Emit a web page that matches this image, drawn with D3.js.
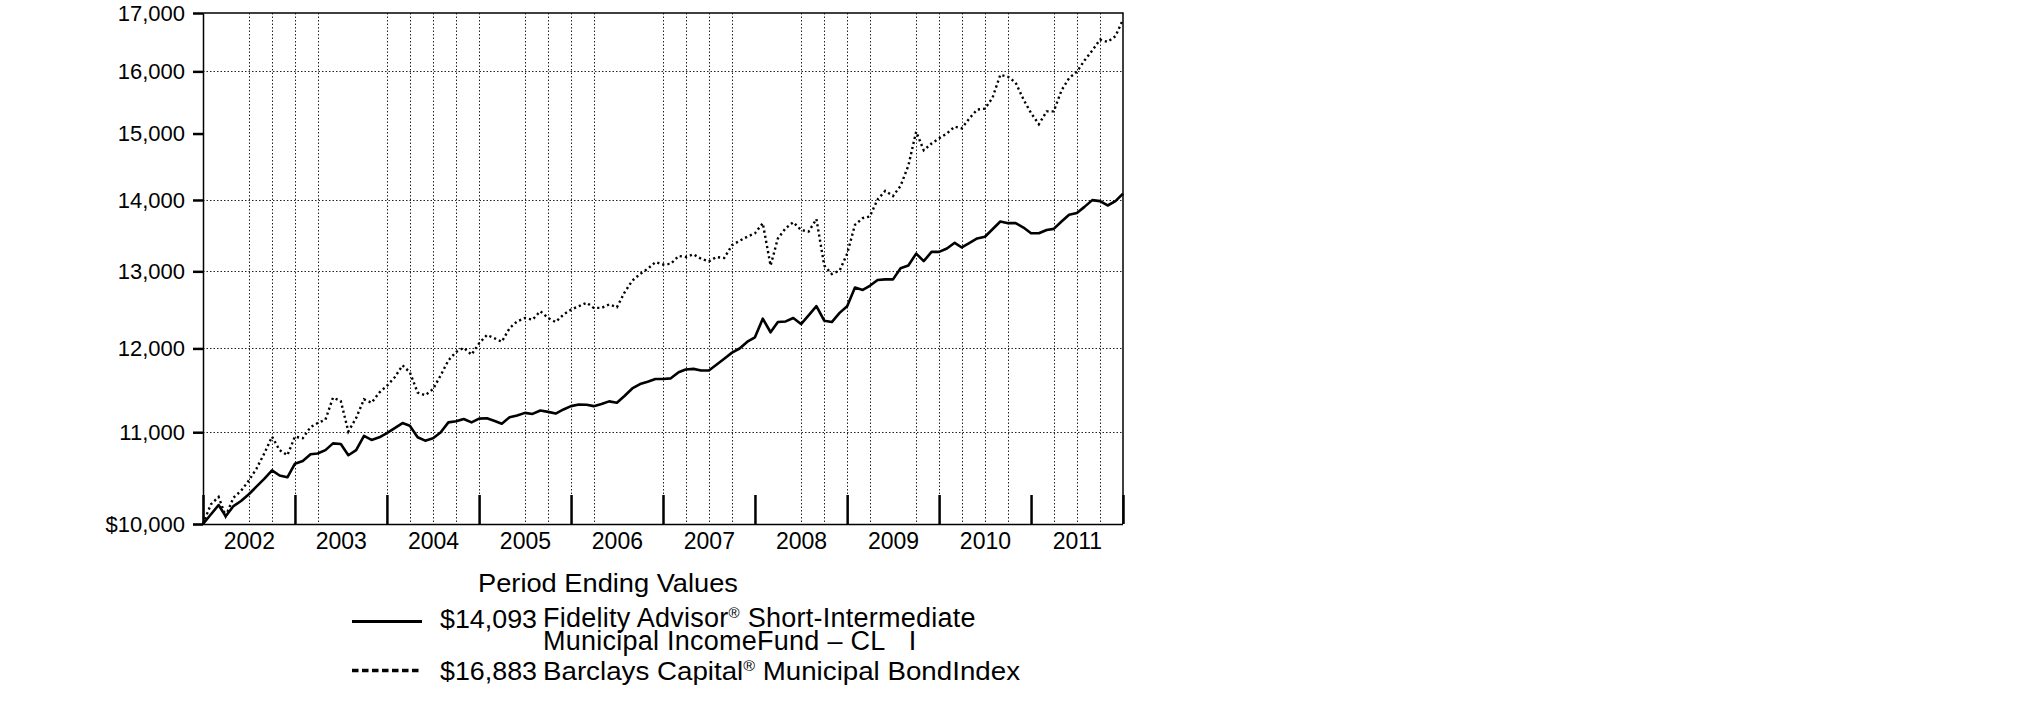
<!DOCTYPE html>
<html>
<head>
<meta charset="utf-8">
<script src="https://cdn.jsdelivr.net/npm/d3@7"></script>
<style>
  html, body { margin: 0; padding: 0; background: #fff; }
  svg { display: block; }
  text { font-family: "Liberation Sans", Arial, Helvetica, sans-serif; fill: #000; }
</style>
</head>
<body>
<script>
// ---------------- DATA ----------------
const startMonth = "2001-12";   // first month-end point (initial $10,000)
const endMonth = "2011-12";     // last month-end point

// Fidelity Advisor Short-Intermediate Municipal Income Fund - CL I (monthly, Dec 2001 .. Dec 2011)
const fundValues = [
  10000, 10099, 10199, 10081, 10188, 10242, 10314, 10395, 10479, 10572, 10516, 10497,
  10646, 10676, 10752, 10759, 10797, 10873, 10866, 10740, 10797, 10958, 10912, 10942,
  10989, 11047, 11105, 11074, 10942, 10904, 10931, 10996, 11113, 11125, 11152, 11113,
  11156, 11160, 11129, 11098, 11172, 11192, 11223, 11211, 11251, 11235, 11215, 11263,
  11302, 11322, 11318, 11302, 11326, 11358, 11342, 11422, 11511, 11564, 11592, 11625,
  11625, 11633, 11707, 11740, 11748, 11728, 11728, 11798, 11873, 11948, 11999, 12084,
  12139, 12376, 12203, 12333, 12341, 12385, 12307, 12420, 12538, 12350, 12333, 12451,
  12538, 12783, 12752, 12806, 12883, 12892, 12892, 13042, 13079, 13241, 13139, 13265,
  13265, 13312, 13391, 13326, 13391, 13452, 13476, 13581, 13691, 13667, 13667, 13605,
  13524, 13524, 13571, 13586, 13691, 13788, 13812, 13900, 13998, 13983, 13920, 13983,
  14093
];

// Barclays Capital Municipal Bond Index (monthly, Dec 2001 .. Dec 2011)
const indexValues = [
  10000, 10206, 10285, 10081, 10278, 10351, 10461, 10590, 10759, 10950, 10797, 10740,
  10950, 10931, 11059, 11105, 11144, 11402, 11362, 11008, 11164, 11382, 11342, 11463,
  11543, 11646, 11790, 11707, 11463, 11430, 11503, 11666, 11852, 11957, 12007, 11923,
  12063, 12169, 12126, 12084, 12255, 12341, 12385, 12363, 12472, 12385, 12333, 12429,
  12494, 12538, 12583, 12516, 12516, 12560, 12525, 12716, 12874, 12965, 13033, 13125,
  13093, 13102, 13209, 13196, 13232, 13171, 13134, 13195, 13181, 13358, 13419, 13477,
  13524, 13667, 13079, 13452, 13595, 13681, 13571, 13548, 13725, 13079, 12965, 13010,
  13241, 13643, 13739, 13763, 14008, 14132, 14057, 14206, 14509, 15029, 14741, 14845,
  14924, 15002, 15108, 15082, 15242, 15377, 15393, 15567, 15944, 15910, 15815, 15540,
  15322, 15146, 15349, 15349, 15688, 15888, 15994, 16181, 16352, 16537, 16497, 16596,
  16883
];

const yTickValues = [10000, 11000, 12000, 13000, 14000, 15000, 16000, 17000];
const yTickLabels = ["$10,000", "11,000", "12,000", "13,000", "14,000", "15,000", "16,000", "17,000"];
const yGridValues = [11000, 12000, 13000, 14000, 16000];

const yearLabels = ["2002", "2003", "2004", "2005", "2006", "2007", "2008", "2009", "2010", "2011"];
const yearBoundaries = ["2001-12", "2002-12", "2003-12", "2004-12", "2005-12", "2006-12",
                        "2007-12", "2008-12", "2009-12", "2010-12", "2011-12"];
const yearMidpoints = ["2002-06", "2003-06", "2004-06", "2005-06", "2006-06",
                       "2007-06", "2008-06", "2009-06", "2010-06", "2011-06"];
const xGridMonths = ["2002-06", "2002-09", "2002-12", "2003-03", "2003-12", "2004-03", "2004-06",
                     "2004-09", "2004-12", "2005-06", "2005-09", "2005-12", "2006-03", "2006-12",
                     "2007-03", "2007-06", "2007-09", "2008-06", "2008-09", "2008-12", "2009-03",
                     "2009-09", "2009-12", "2010-03", "2010-06", "2010-09", "2011-03", "2011-06",
                     "2011-09"];

const legendTitle = "Period Ending Values";
const fundNameParts = ["Fidelity Advisor", "®", " Short-Intermediate"];
const fundNameLine2 = "Municipal IncomeFund \u2013 CL\u00A0\u00A0\u00A0I";
const indexNameParts = ["Barclays Capital", "®", " Municipal BondIndex"];
const seriesEndLabels = ["$14,093", "$16,883"];

// ---------------- CHART ----------------
const W = 2025, H = 717;
const parseMonth = d3.utcParse("%Y-%m");
const months = d3.utcMonth.range(parseMonth(startMonth), d3.utcMonth.offset(parseMonth(endMonth), 1));

const svg = d3.select("body").append("svg")
  .attr("width", W).attr("height", H)
  .attr("viewBox", `0 0 ${W} ${H}`);
svg.append("rect").attr("width", W).attr("height", H).attr("fill", "#fff");

const plot = { left: 203, right: 1123, top: 13, bottom: 524 };

const x = d3.scaleUtc()
  .domain([parseMonth(startMonth), parseMonth(endMonth)])
  .range([plot.left, plot.right]);
const y = d3.scaleLog()
  .domain([10000, 17000])
  .range([plot.bottom, plot.top]);

// grid lines
const grid = svg.append("g").attr("stroke", "#222").attr("stroke-width", 1)
  .attr("stroke-dasharray", "1.5,2");
grid.selectAll("line.h").data(yGridValues).join("line")
  .attr("class", "h")
  .attr("x1", plot.left).attr("x2", plot.right)
  .attr("y1", d => Math.round(y(d)) + 0.5).attr("y2", d => Math.round(y(d)) + 0.5);
grid.selectAll("line.v").data(xGridMonths).join("line")
  .attr("class", "v")
  .attr("x1", d => Math.round(x(parseMonth(d))) + 0.5)
  .attr("x2", d => Math.round(x(parseMonth(d))) + 0.5)
  .attr("y1", plot.top).attr("y2", plot.bottom);

// frame (top + right)
svg.append("path")
  .attr("d", `M${plot.left},${plot.top}H${plot.right}V${plot.bottom}`)
  .attr("fill", "none").attr("stroke", "#000").attr("stroke-width", 1.5);

// y axis
const yAxis = svg.append("g")
  .attr("transform", `translate(${plot.left},0)`)
  .call(d3.axisLeft(y)
    .tickValues(yTickValues)
    .tickFormat((d, i) => yTickLabels[i])
    .tickSize(10).tickSizeOuter(0).tickPadding(8));
yAxis.select(".domain").attr("stroke-width", 1.5);
yAxis.selectAll(".tick line").attr("stroke-width", 2.5);
yAxis.selectAll(".tick text")
  .style("font-family", '"Liberation Sans", Arial, sans-serif')
  .style("font-size", "22px").attr("fill", "#000");

// x axis: baseline + major year ticks (inward)
const xAxis = svg.append("g")
  .attr("transform", `translate(0,${plot.bottom})`)
  .call(d3.axisBottom(x)
    .tickValues(yearBoundaries.map(parseMonth))
    .tickFormat("")
    .tickSize(-29).tickSizeOuter(0));
xAxis.select(".domain").attr("stroke-width", 1.5)
  .attr("d", `M${plot.left - 10},0.5H${plot.right}`);
xAxis.selectAll(".tick line").attr("stroke-width", 2.5);

// x axis year labels (centered in each year)
const xLabels = svg.append("g")
  .attr("transform", `translate(0,${plot.bottom})`)
  .call(d3.axisBottom(x)
    .tickValues(yearMidpoints.map(parseMonth))
    .tickFormat((d, i) => yearLabels[i])
    .tickSize(0).tickPadding(9));
xLabels.select(".domain").remove();
xLabels.selectAll(".tick text")
  .style("font-family", '"Liberation Sans", Arial, sans-serif')
  .style("font-size", "23px").attr("fill", "#000");

// series lines
const line = d3.line()
  .x((d, i) => x(months[i]))
  .y(d => y(d));

svg.append("path")
  .datum(indexValues)
  .attr("d", line)
  .attr("fill", "none").attr("stroke", "#000")
  .attr("stroke-width", 2.4)
  .attr("stroke-dasharray", "2.2,3");

svg.append("path")
  .datum(fundValues)
  .attr("d", line)
  .attr("fill", "none").attr("stroke", "#000")
  .attr("stroke-width", 2.6)
  .attr("stroke-linejoin", "round");

// ---------------- LEGEND ----------------
const lg = svg.append("g");
const legendFont = '"Liberation Sans", Arial, sans-serif';

lg.append("text")
  .attr("x", 478).attr("y", 592)
  .style("font-family", legendFont).style("font-size", "26px")
  .attr("textLength", 260).attr("lengthAdjust", "spacingAndGlyphs")
  .text(legendTitle);

// solid sample
lg.append("line")
  .attr("x1", 352).attr("x2", 422).attr("y1", 621.5).attr("y2", 621.5)
  .attr("stroke", "#000").attr("stroke-width", 3);
// dotted sample
lg.append("line")
  .attr("x1", 352).attr("x2", 422).attr("y1", 670.5).attr("y2", 670.5)
  .attr("stroke", "#000").attr("stroke-width", 3.5)
  .attr("stroke-dasharray", "6.5,3.5");

const valueY = [628, 680];
seriesEndLabels.forEach((s, i) => {
  lg.append("text")
    .attr("x", 440).attr("y", valueY[i])
    .style("font-family", legendFont).style("font-size", "26px")
    .attr("textLength", 97).attr("lengthAdjust", "spacingAndGlyphs")
    .text(s);
});

// fund name: one text element, two lines
const fundText = lg.append("text")
  .attr("x", 543).attr("y", 627)
  .style("font-family", legendFont).style("font-size", "27px")
  .style("letter-spacing", "0.25px");
fundText.append("tspan").text(fundNameParts[0]);
fundText.append("tspan").attr("dy", -9).style("font-size", "15px").text(fundNameParts[1]);
fundText.append("tspan").attr("dy", 9).text(fundNameParts[2]);
fundText.append("tspan").attr("x", 543).attr("dy", 23).text(fundNameLine2);

// index name
const idxText = lg.append("text")
  .attr("x", 543).attr("y", 680)
  .style("font-family", legendFont).style("font-size", "26px")
  .attr("textLength", 477).attr("lengthAdjust", "spacingAndGlyphs");
idxText.append("tspan").text(indexNameParts[0]);
idxText.append("tspan").attr("dy", -9).style("font-size", "15px").text(indexNameParts[1]);
idxText.append("tspan").attr("dy", 9).text(indexNameParts[2]);
</script>
</body>
</html>
